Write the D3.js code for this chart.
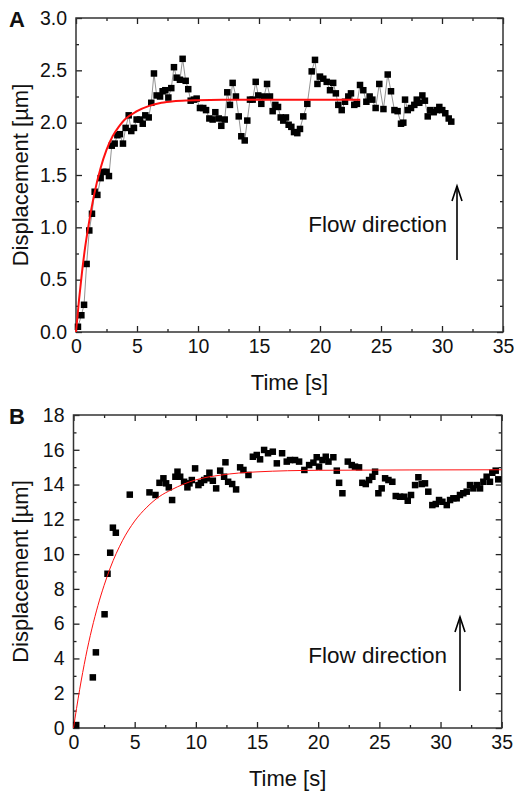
<!DOCTYPE html>
<html>
<head>
<meta charset="utf-8">
<script src="https://cdn.jsdelivr.net/npm/d3@7"></script>
<style>
  body { margin: 0; background: #fff; }
  svg text { font-family: "Liberation Sans", Arial, sans-serif; fill: #111; }
</style>
</head>
<body>
<div id="chart"></div>
<script>
// ---- panel A data (time [s], displacement [um]) ----
const timeA = [0.16,0.44,0.66,0.87,1.09,1.31,1.53,1.75,2.02,2.24,2.5,2.7,2.93,3.17,3.39,3.6,3.85,4.07,4.32,4.53,4.75,4.97,5.25,5.47,5.68,5.96,6.17,6.39,6.61,6.89,7.1,7.32,7.57,7.81,8.03,8.25,8.52,8.74,8.99,9.2,9.4,9.67,9.89,10.16,10.43,10.66,10.93,11.2,11.42,11.7,11.91,12.19,12.4,12.62,12.84,13.11,13.34,13.55,13.83,14.04,14.26,14.48,14.73,14.94,15.19,15.41,15.66,15.9,16.12,16.34,16.56,16.78,16.99,17.21,17.43,17.65,17.87,18.14,18.36,18.63,18.96,19.32,19.59,19.79,20.0,20.27,20.55,20.82,21.08,21.3,21.5,21.78,22.05,22.32,22.54,22.81,23.03,23.28,23.55,23.8,24.07,24.29,24.56,24.86,25.2,25.55,25.82,26.1,26.36,26.64,26.83,26.97,27.19,27.46,27.73,27.93,28.14,28.39,28.6,28.83,29.04,29.32,29.57,29.78,30.02,30.27,30.55,30.76];
const dispA = [0.05,0.16,0.26,0.65,0.97,1.13,1.34,1.31,1.47,1.53,1.53,1.49,1.78,1.80,1.88,1.89,1.80,1.95,2.07,1.92,1.95,2.03,2.03,1.99,2.07,2.05,2.19,2.47,2.26,2.25,2.30,2.31,2.24,2.33,2.53,2.43,2.41,2.61,2.40,2.32,2.21,2.22,2.23,2.14,2.14,2.12,2.04,2.03,2.10,2.04,1.97,2.03,2.29,2.17,2.38,2.25,2.06,1.87,1.83,2.02,2.22,2.22,2.39,2.26,2.18,2.25,2.37,2.25,2.11,2.17,2.15,2.05,2.02,2.05,1.98,1.96,1.91,1.90,1.94,2.06,2.18,2.49,2.60,2.37,2.44,2.42,2.39,2.31,2.38,2.28,2.17,2.12,2.20,2.25,2.28,2.17,2.18,2.36,2.31,2.20,2.25,2.22,2.14,2.37,2.13,2.46,2.30,2.12,2.11,1.99,2.00,2.22,2.12,2.14,2.17,2.22,2.19,2.26,2.21,2.06,2.12,2.10,2.12,2.15,2.12,2.09,2.04,2.01];
// fitted exponential
const fitTimeA = [0,0.25,0.5,0.75,1,1.5,2,2.5,3,3.5,4,5,6,7,8,9,10,12,15,23.3];
const fitDispA = [0,0.31,0.58,0.81,1.0,1.32,1.56,1.74,1.87,1.96,2.03,2.11,2.16,2.19,2.205,2.212,2.215,2.218,2.22,2.22];

// ---- panel B data ----
const timeB = [0.22,1.58,1.83,2.54,2.78,3.0,3.22,3.46,4.6,6.21,6.7,7.03,7.35,7.57,7.79,8.06,8.33,8.5,8.72,9.04,9.31,9.48,9.67,9.94,10.21,10.41,10.68,10.9,11.11,11.39,11.66,11.99,12.31,12.42,12.64,12.97,13.29,13.62,13.89,14.3,14.66,14.98,15.25,15.58,15.9,16.29,16.62,17.05,17.43,17.7,18.11,18.44,18.87,19.26,19.61,19.88,20.07,20.35,20.62,20.84,21.24,21.52,21.71,21.98,22.42,22.74,23.01,23.34,23.61,23.89,24.16,24.43,24.65,24.92,25.19,25.47,25.74,26.06,26.34,26.69,27.04,27.32,27.59,27.92,28.19,28.46,28.73,29.0,29.33,29.61,29.88,30.15,30.51,30.78,31.05,31.32,31.59,31.86,32.14,32.41,32.68,32.96,33.23,33.5,33.77,34.04,34.23,34.51,34.72];
const dispB = [0.17,2.91,4.35,6.54,8.87,10.08,11.52,11.23,13.42,13.55,13.4,14.1,14.36,14.07,13.84,13.11,14.45,14.74,14.45,14.16,13.84,14.07,14.26,14.93,13.97,14.1,14.26,14.36,14.68,14.22,13.78,14.8,14.45,15.28,14.16,14.03,13.72,14.99,14.84,14.55,15.6,15.7,15.45,15.99,15.8,15.89,15.22,15.8,15.32,15.41,15.41,15.32,14.84,15.12,15.26,15.57,15.03,15.41,15.6,15.32,15.57,14.8,14.1,13.5,15.32,15.12,15.03,14.99,14.1,14.03,14.26,14.45,14.74,13.5,13.78,14.36,14.26,14.16,13.34,13.3,13.3,13.07,13.4,13.97,14.42,14.03,14.07,13.59,12.82,12.88,13.11,13.01,12.82,13.11,13.21,13.21,13.4,13.5,13.59,13.97,13.78,13.97,13.78,14.16,14.45,14.16,14.68,14.8,14.3];
const fitTimeB = [0,0.5,1,1.5,2,2.5,3,4,5,6,7,8,10,12,15,20,35];
const fitDispB = [0,2.2,4.1,5.7,7.05,8.2,9.2,10.77,11.9,12.7,13.3,13.7,14.27,14.54,14.73,14.82,14.85];

// ticks
const xMajor = [0,5,10,15,20,25,30,35];
const xMinor = [2.5,7.5,12.5,17.5,22.5,27.5,32.5];
const yMajorA = [0,0.5,1.0,1.5,2.0,2.5,3.0];
const yMinorA = [0.25,0.75,1.25,1.75,2.25,2.75];
const yMajorB = [0,2,4,6,8,10,12,14,16,18];
const yMinorB = [1,3,5,7,9,11,13,15,17];

const svg = d3.select('#chart').append('svg')
    .attr('width', 514).attr('height', 792);

function drawPanel(opt) {
    const x = d3.scaleLinear().domain([0, 35]).range([opt.left, opt.right]);
    const y = d3.scaleLinear().domain(opt.yDomain).range([opt.bottom, opt.top]);
    const g = svg.append('g');

    // ticks on all four sides, pointing inward; labels only bottom and left
    const sides = [
        { make: () => d3.axisBottom(x), tr: 'translate(0,' + opt.bottom + ')', major: xMajor, minor: xMinor, fmt: d3.format('d'), pad: 7 },
        { make: () => d3.axisTop(x), tr: 'translate(0,' + opt.top + ')', major: xMajor, minor: xMinor, fmt: () => '', pad: 7 },
        { make: () => d3.axisLeft(y), tr: 'translate(' + opt.left + ',0)', major: opt.yMajor, minor: opt.yMinor, fmt: opt.yFormat, pad: 9 },
        { make: () => d3.axisRight(y), tr: 'translate(' + opt.right + ',0)', major: opt.yMajor, minor: opt.yMinor, fmt: () => '', pad: 9 }
    ];
    sides.forEach(s => {
        const maj = g.append('g').attr('transform', s.tr)
            .call(s.make().tickValues(s.major).tickSize(-6).tickSizeOuter(0).tickPadding(s.pad).tickFormat(s.fmt));
        maj.select('.domain').remove();
        maj.selectAll('line').attr('stroke', '#222').attr('stroke-width', 1.3);
        maj.selectAll('text').attr('font-size', 19.5).attr('fill', '#111');
        const mn = g.append('g').attr('transform', s.tr)
            .call(s.make().tickValues(s.minor).tickSize(-3).tickSizeOuter(0).tickFormat(() => ''));
        mn.select('.domain').remove();
        mn.selectAll('line').attr('stroke', '#222').attr('stroke-width', 1.3);
    });

    // frame
    g.append('rect')
        .attr('x', opt.left).attr('y', opt.top)
        .attr('width', opt.right - opt.left).attr('height', opt.bottom - opt.top)
        .attr('fill', 'none').attr('stroke', '#333').attr('stroke-width', 1.5);

    const pts = opt.t.map((t, i) => [t, opt.v[i]]);
    if (opt.connect) {
        g.append('path').datum(pts)
            .attr('d', d3.line().x(d => x(d[0])).y(d => y(d[1])))
            .attr('fill', 'none').attr('stroke', '#777').attr('stroke-width', 0.8);
    }
    const ms = 6.5;
    g.selectAll('rect.pt').data(pts).join('rect')
        .attr('class', 'pt')
        .attr('x', d => x(d[0]) - ms / 2).attr('y', d => y(d[1]) - ms / 2)
        .attr('width', ms).attr('height', ms).attr('fill', '#000');

    const fit = opt.fitT.map((t, i) => [t, opt.fitV[i]]);
    g.append('path').datum(fit)
        .attr('d', d3.line().curve(d3.curveMonotoneX).x(d => x(d[0])).y(d => y(d[1])))
        .attr('fill', 'none').attr('stroke', '#ff1010').attr('stroke-width', opt.fitWidth);

    // labels
    g.append('text').attr('x', 9).attr('y', opt.top + 9)
        .attr('font-size', 22).attr('font-weight', 'bold').text(opt.tag);
    g.append('text')
        .attr('transform', 'translate(28,' + ((opt.top + opt.bottom) / 2) + ') rotate(-90)')
        .attr('text-anchor', 'middle').attr('font-size', 22)
        .text('Displacement [\u00b5m]');
    g.append('text').attr('x', (opt.left + opt.right) / 2).attr('y', opt.bottom + 58)
        .attr('text-anchor', 'middle').attr('font-size', 22).text('Time [s]');

    // flow direction annotation
    g.append('text').attr('x', 447).attr('y', opt.flowY + 8)
        .attr('text-anchor', 'end').attr('font-size', 22.5).text('Flow direction');
    const ax0 = opt.arrowX, yTop = opt.flowY - 38, yBot = opt.flowY + 36;
    g.append('line').attr('x1', ax0).attr('x2', ax0).attr('y1', yBot).attr('y2', yTop)
        .attr('stroke', '#000').attr('stroke-width', 1.6);
    g.append('path')
        .attr('d', `M${ax0 - 5},${yTop + 15} L${ax0},${yTop} L${ax0 + 5},${yTop + 15}`)
        .attr('fill', 'none').attr('stroke', '#000').attr('stroke-width', 1.6);
}

drawPanel({
    tag: 'A', left: 76, right: 503, top: 18, bottom: 332,
    yDomain: [0, 3], yMajor: yMajorA, yMinor: yMinorA, yFormat: d3.format('.1f'),
    t: timeA, v: dispA, connect: true,
    fitT: fitTimeA, fitV: fitDispA, fitWidth: 2,
    flowY: 224, arrowX: 457
});

drawPanel({
    tag: 'B', left: 73.5, right: 501.7, top: 415, bottom: 728,
    yDomain: [0, 18], yMajor: yMajorB, yMinor: yMinorB, yFormat: d3.format('d'),
    t: timeB, v: dispB, connect: false,
    fitT: fitTimeB, fitV: fitDispB, fitWidth: 1,
    flowY: 655, arrowX: 460
});
</script>
</body>
</html>
